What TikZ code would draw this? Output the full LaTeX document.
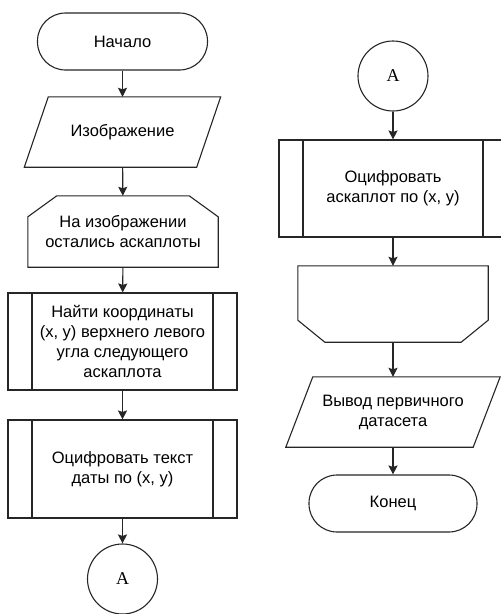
\documentclass[tikz,border=0pt]{standalone}
\usepackage{fontspec}
\setmainfont{Liberation Sans}
\newfontfamily\letterfont{Liberation Serif}
\usetikzlibrary{arrows.meta}

\begin{document}
\begin{tikzpicture}[x=1pt,y=-1pt,
    every node/.style={font=\fontsize{16.5}{20}\selectfont, align=center},
    outline/.style={draw=black!85, line width=1.1pt},
    term/.style={outline, rounded corners=28pt, minimum width=170pt, minimum height=57pt},
    io/.style={minimum height=70pt, append after command={\pgfextra{
      \draw[outline] ([xshift=#1]\tikzlastnode.north west) -- (\tikzlastnode.north east)
        -- ([xshift=-#1]\tikzlastnode.south east) -- (\tikzlastnode.south west) -- cycle;}}},
    loopstart/.style={minimum width=190pt, minimum height=71pt, append after command={\pgfextra{
      \draw[outline] ([yshift=-21pt]\tikzlastnode.north west) -- ([xshift=29pt]\tikzlastnode.north west)
        -- ([xshift=-29pt]\tikzlastnode.north east) -- ([yshift=-21pt]\tikzlastnode.north east)
        -- (\tikzlastnode.south east) -- (\tikzlastnode.south west) -- cycle;}}},
    loopstop/.style={minimum width=190pt, minimum height=76pt, append after command={\pgfextra{
      \draw[outline] (\tikzlastnode.north west) -- (\tikzlastnode.north east)
        -- ([yshift=22pt]\tikzlastnode.south east) -- ([xshift=-27pt]\tikzlastnode.south east)
        -- ([xshift=27pt]\tikzlastnode.south west) -- ([yshift=22pt]\tikzlastnode.south west) -- cycle;}}},
    subproc/.style={outline, minimum width=229pt, minimum height=97pt,
      path picture={
        \draw[outline]
          ([xshift=24pt]path picture bounding box.north west) -- ([xshift=24pt]path picture bounding box.south west)
          ([xshift=-24pt]path picture bounding box.north east) -- ([xshift=-24pt]path picture bounding box.south east);
      }},
    conn/.style={outline, circle, minimum size=70pt, inner sep=0pt, font=\letterfont\fontsize{18}{20}\selectfont}
  ]
  \clip[use as bounding box] (0,0) rectangle (501,614);
  \fill[white] (0,0) rectangle (501,614);

  % left column
  \node[term] (start) at (122.5,41.5) {Начало};
  \node[io=24pt, minimum width=196pt] (img) at (122.5,132) {Изображение};
  \node[loopstart] (left) at (123,231.5) {На изображении\\остались аскаплоты};
  \node[subproc] (find) at (122.5,341.5) {Найти координаты\\(x, y) верхнего левого\\угла следующего\\аскаплота};
  \node[subproc, minimum height=98pt] (date) at (122.5,469) {Оцифровать текст\\даты по (x, y)};
  \node[conn] (a1) at (122.5,579) {A};

  % right column
  \node[conn] (a2) at (393,76) {A};
  \node[subproc, minimum width=228pt] (plot) at (393,188.5) {Оцифровать\\аскаплот по (x, y)};
  \node[loopstop] (loopend) at (393,304) {};
  \node[io=27pt, minimum width=214pt] (out) at (393,412) {Вывод первичного\\датасета};
  \node[term, minimum width=168pt] (stop) at (393,503.5) {Конец};

  \begin{scope}[-{Stealth[length=9pt,width=9pt,inset=1.5pt]}, line width=1.1pt, black!85]
    \draw (start) to (img);
    \draw (img) to (left);
    \draw (left) to (find);
    \draw (find) to (date);
    \draw (date) to (a1);
    \draw (a2) to (plot);
    \draw (plot) to (loopend);
    \draw (loopend) to (out);
    \draw (out) to (stop);
  \end{scope}
\end{tikzpicture}
\end{document}
